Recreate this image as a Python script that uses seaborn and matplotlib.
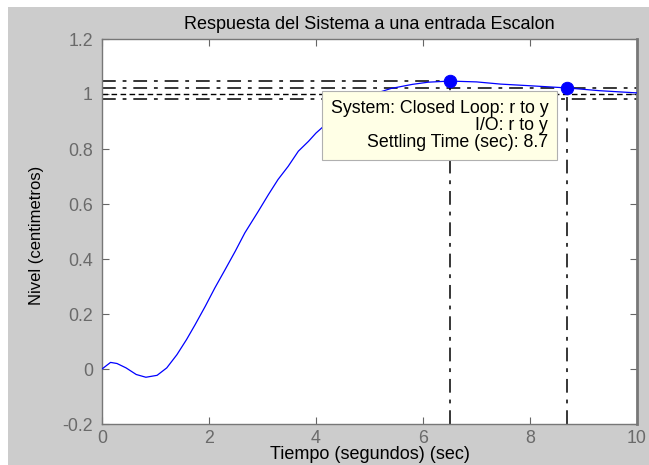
import matplotlib
matplotlib.use("Agg")
import matplotlib.pyplot as plt
import seaborn as sns
import pandas as pd
from matplotlib.patches import Rectangle

# ---- data ----
time = [0, 0.16, 0.28, 0.45, 0.64, 0.82, 1.03, 1.21, 1.40, 1.58, 1.74, 1.93,
        2.11, 2.30, 2.49, 2.67, 2.92, 3.11, 3.29, 3.48, 3.67, 3.86, 4.0,
        4.3, 4.65, 5.0, 5.4, 5.8, 6.1, 6.5, 7.0, 7.45, 8.0, 8.7, 9.3, 10.0]
response = [0, 0.024, 0.02, 0.004, -0.02, -0.03, -0.023, 0.004, 0.052, 0.107,
            0.161, 0.228, 0.295, 0.361, 0.428, 0.495, 0.573, 0.634, 0.689,
            0.737, 0.792, 0.828, 0.858, 0.91, 0.96, 0.995, 1.02, 1.035, 1.043,
            1.047, 1.044, 1.036, 1.03, 1.022, 1.012, 1.004]
peak_time, peak_value = 6.5, 1.047
settle_time, settle_value = 8.7, 1.02
steady_state = 1.0
settle_band = [0.98, 1.02]
x_ticks = [0, 2, 4, 6, 8, 10]
y_ticks = [-0.2, 0, 0.2, 0.4, 0.6, 0.8, 1.0, 1.2]
y_ticklabels = ["-0.2", "0", "0.2", "0.4", "0.6", "0.8", "1", "1.2"]
title = "Respuesta del Sistema a una entrada Escalon"
xlabel = "Tiempo (segundos) (sec)"
ylabel = "Nivel (centimetros)"
tip_text = "System: Closed Loop: r to y\nI/O: r to y\nSettling Time (sec): 8.7"

sns.set_style("white")
plt.rcParams["font.family"] = ["Liberation Sans", "DejaVu Sans"]

fig = plt.figure(figsize=(6.49, 4.65), dpi=100, facecolor="white")
# grey figure panel (white margin top/left as in the reference)
fig.patches.append(Rectangle((8 / 649, 0), 1 - 8 / 649, 1 - 7 / 465,
                             transform=fig.transFigure, facecolor="#cccccc",
                             edgecolor="none", zorder=-10))
ax = fig.add_axes([102 / 649, 1 - 424 / 465, 535 / 649, 385 / 465])
ax.set_facecolor("white")

df = pd.DataFrame({"t": time, "y": response})
sns.lineplot(data=df, x="t", y="y", ax=ax, color="#0000ff", lw=0.9, zorder=3)

dashdot = (0, (9, 4.5, 2.5, 4.5))
kw = dict(color="black", lw=1.1, zorder=2)
# peak response lines
ax.plot([0, peak_time], [peak_value, peak_value], linestyle=dashdot, **kw)
ax.plot([peak_time, peak_time], [-0.2, peak_value], linestyle=dashdot, **kw)
# settling band and steady state
for b in settle_band:
    ax.axhline(b, linestyle=dashdot, **kw)
ax.axhline(steady_state, linestyle=(0, (4, 2.5)), color="black", lw=1.0, zorder=2)
ax.plot([settle_time, settle_time], [-0.2, settle_value], linestyle=dashdot, **kw)

mk = pd.DataFrame({"t": [peak_time, settle_time], "y": [peak_value, settle_value]})
sns.scatterplot(data=mk, x="t", y="y", ax=ax, color="#0000ff", s=80,
                edgecolor="#0000ff", zorder=5)

ax.text(0.834, 0.842, tip_text, transform=ax.transAxes, ha="right", va="top",
        multialignment="right", fontsize=12.8, color="black", linespacing=1.02,
        zorder=6,
        bbox=dict(boxstyle="square,pad=0.5", facecolor="#ffffe6",
                  edgecolor="#b0b0b0", lw=0.8))

ax.set_xlim(0, 10)
ax.set_ylim(-0.2, 1.2)
ax.set_xticks(x_ticks)
ax.set_xticklabels([str(v) for v in x_ticks])
ax.set_yticks(y_ticks)
ax.set_yticklabels(y_ticklabels)
ax.tick_params(direction="in", length=5, width=0.8, color="#666666",
               labelcolor="#6a6a6a", labelsize=12.8, top=True, right=True,
               bottom=True, left=True)
ax.tick_params(axis="y", pad=6.5)
ax.tick_params(axis="x", pad=4.5)
for s in ax.spines.values():
    s.set_color("#777777")
    s.set_linewidth(1.0)
    s.set_visible(True)
ax.spines["right"].set_linewidth(2.0)

ax.set_title(title, fontsize=13, color="black", pad=7)
ax.set_xlabel(xlabel, fontsize=13, color="black")
ax.set_ylabel(ylabel, fontsize=12, color="black")
ax.xaxis.set_label_coords(0.5, -0.058)
ax.yaxis.set_label_coords(-0.108, 0.49)

fig.savefig("out.png", dpi=100, facecolor=fig.get_facecolor())
